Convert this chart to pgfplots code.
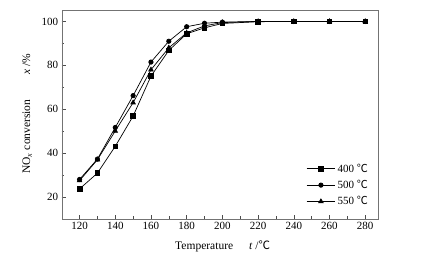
\documentclass[border=0pt]{standalone}
\usepackage{fontspec}
\setmainfont{Liberation Serif}
\newfontfamily\cjk{Noto Sans CJK SC}
\usepackage{pgfplots}
\pgfplotsset{compat=1.18}
\newcommand{\degC}{{\cjk ℃}}
\begin{document}
\begin{tikzpicture}
\begin{axis}[
  name=ax,
  scale only axis,
  width=316pt, height=208.5pt,
  xmin=110, xmax=287, ymin=10, ymax=105,
  xtick={120,140,...,280}, ytick={20,40,...,100},
  minor xtick={130,150,...,270}, minor ytick={30,50,70,90},
  tick pos=left, tick align=inside,
  major tick length=4pt, minor tick length=2.5pt,
  axis line style={black!55},
  every tick/.style={black!70},
  /pgf/number format/assume math mode=true,
  ticklabel style={font=\fontsize{11}{13}\selectfont},
  label style={font=\fontsize{11.5}{13}\selectfont},
  xlabel={Temperature\hspace{16pt}\textit{t} /\degC},
  ylabel={NO\textsubscript{\textit{x}} conversion\hspace{25pt}\textit{x} /\%},
  xlabel style={yshift=-4pt, xshift=3pt},
  ylabel style={yshift=3pt, xshift=1pt},
  legend style={draw=none, fill=none, at={(rel axis cs:0.985,0.04)}, anchor=south east,
    font=\fontsize{11}{13}\selectfont, row sep=2.5pt},
  legend cell align=left,
  legend image code/.code={\draw[mark repeat=2,mark phase=2] plot coordinates {(0cm,0cm) (0.5cm,0cm) (1.0cm,0cm)};},
]
\addplot[black, line width=0.7pt, mark=square*, mark size=2.3pt, mark options={solid,fill=black}] coordinates {
(120,23.7) (130,30.9) (140,43.1) (150,56.9) (160,75.1) (170,86.8) (180,94.4) (190,97.1) (200,99.1) (220,99.9) (240,100) (260,100) (280,100)};
\addlegendentry{400 \degC}
\addplot[black, line width=0.7pt, mark=*, mark size=2.2pt, mark options={solid,fill=black}] coordinates {
(120,28) (130,37.3) (140,51.7) (150,66.2) (160,81.5) (170,91) (180,97.6) (190,99.2) (200,99.7) (220,100) (240,100) (260,100) (280,100)};
\addlegendentry{500 \degC}
\addplot[black, line width=0.7pt, mark=triangle*, mark size=2.6pt, mark options={solid,fill=black}] coordinates {
(120,27.5) (130,37) (140,50.1) (150,63) (160,78) (170,88) (180,94.8) (190,98) (200,99.5) (220,100) (240,100) (260,100) (280,100)};
\addlegendentry{550 \degC}
\end{axis}
\pgfresetboundingbox
\useasboundingbox ([xshift=-61.7pt,yshift=-47pt]ax.south west) rectangle ([xshift=44.3pt,yshift=10.5pt]ax.north east);
\end{tikzpicture}
\end{document}
